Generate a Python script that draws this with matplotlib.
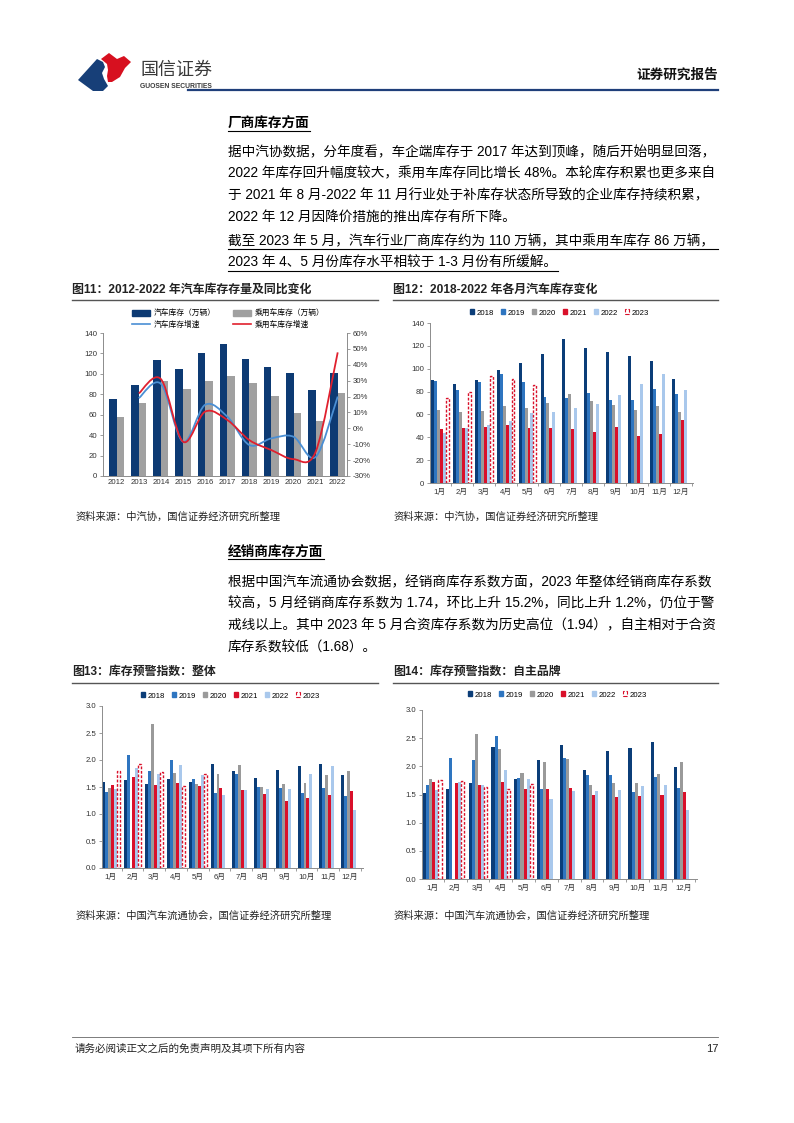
import numpy as np
import matplotlib
matplotlib.use("Agg")
import matplotlib.pyplot as plt
from matplotlib.lines import Line2D
from matplotlib.patches import Patch, Polygon, PathPatch
from matplotlib.path import Path
from matplotlib.ticker import FuncFormatter, FixedLocator

plt.rcParams['font.family'] = ['Liberation Sans', 'Noto Sans CJK SC', 'DejaVu Sans']
plt.rcParams['axes.unicode_minus'] = False

# ---------------- data ----------------
years11 = ['2012', '2013', '2014', '2015', '2016', '2017', '2018', '2019', '2020', '2021', '2022']
auto_stock = [75, 89, 114, 105, 120, 129, 115, 107, 101, 84, 101]
pc_stock = [58, 71, 93, 85, 93, 98, 91, 78, 62, 54, 81]
auto_growth = [np.nan, 0.19, 0.28, -0.084, 0.148, 0.074, -0.105, -0.063, -0.053, -0.18, 0.20]
pc_growth = [np.nan, 0.22, 0.31, -0.084, 0.105, 0.053, -0.074, -0.137, -0.194, -0.148, 0.478]

months = ['1月', '2月', '3月', '4月', '5月', '6月', '7月', '8月', '9月', '10月', '11月', '12月']
series_years = ['2018', '2019', '2020', '2021', '2022', '2023']

m12_2018 = [90, 87, 90, 99, 105, 113, 126, 118, 115, 111, 107, 91]
m12_2019 = [89, 81, 88, 95, 88, 75, 74, 79, 73, 73, 82, 78]
m12_2020 = [64, 62, 63, 67, 66, 70, 78, 72, 68, 64, 67, 62]
m12_2021 = [47, 48, 49, 51, 48, 48, 47, 45, 49, 41, 43, 55]
m12_2022 = [44, 48, 51, 54, 61, 62, 66, 69, 77, 87, 95, 81]
m12_2023 = [74, 80, 94, 91, 86]

nan = np.nan
w13_2018 = [1.59, 1.63, 1.55, 1.65, 1.59, 1.93, 1.79, 1.66, 1.82, 1.88, 1.92, 1.73]
w13_2019 = [1.40, 2.09, 1.80, 2.00, 1.64, 1.38, 1.75, 1.50, 1.49, 1.39, 1.49, 1.34]
w13_2020 = [1.49, nan, 2.67, 1.76, 1.55, 1.74, 1.90, 1.50, 1.55, 1.57, 1.72, 1.79]
w13_2021 = [1.53, 1.68, 1.54, 1.57, 1.51, 1.48, 1.45, 1.37, 1.24, 1.29, 1.35, 1.43]
w13_2022 = [1.46, 1.85, 1.74, 1.90, 1.72, 1.36, 1.45, 1.46, 1.47, 1.75, 1.88, 1.07]
w13_2023 = [1.80, 1.93, 1.78, 1.52, 1.75]

w14_2018 = [1.52, 1.59, 1.70, 2.35, 1.77, 2.11, 2.38, 1.93, 2.27, 2.32, 2.44, 1.98]
w14_2019 = [1.66, 2.15, 2.11, 2.54, 1.80, 1.59, 2.15, 1.84, 1.84, 1.55, 1.81, 1.61]
w14_2020 = [1.77, nan, 2.58, 2.31, 1.89, 2.07, 2.13, 1.67, 1.70, 1.70, 1.86, 2.08]
w14_2021 = [1.72, 1.70, 1.66, 1.73, 1.59, 1.59, 1.61, 1.50, 1.45, 1.47, 1.49, 1.54]
w14_2022 = [1.58, 1.73, 1.66, 1.94, 1.78, 1.42, 1.56, 1.57, 1.58, 1.65, 1.67, 1.22]
w14_2023 = [1.75, 1.74, 1.63, 1.60, 1.68]

# ---------------- style ----------------
W, H = 794, 1123
C18, C19, C20, C21, C22 = '#0b3d78', '#2e75c0', '#9a9a9a', '#d9102a', '#a9c8ec'
AXC = '#8c8c8c'
TXT = '#222222'
TICK_FS = 5.6

fig = plt.figure(figsize=(W / 100, H / 100), dpi=100)


def px_axes(x0, y0, x1, y1):
    return fig.add_axes([x0 / W, 1 - y1 / H, (x1 - x0) / W, (y1 - y0) / H])


def ftext(x, y, s, **kw):
    kw.setdefault('va', 'center')
    kw.setdefault('color', TXT)
    return fig.text(x / W, 1 - y / H, s, **kw)


def hline(x0, x1, y, color='#000000', lw=0.8):
    fig.add_artist(Line2D([x0 / W, x1 / W], [1 - y / H, 1 - y / H],
                          transform=fig.transFigure, color=color, lw=lw))


def fpoly(pts, color):
    verts = [(x / W, 1 - y / H) for x, y in pts]
    fig.add_artist(Polygon(verts, closed=True, transform=fig.transFigure, facecolor=color, edgecolor='none'))


def style_axis(ax, right=False):
    for s in ['top', 'right']:
        ax.spines[s].set_visible(False)
    for s in ['left', 'bottom']:
        ax.spines[s].set_color(AXC)
        ax.spines[s].set_linewidth(0.7)
    ax.tick_params(axis='both', labelsize=TICK_FS, colors=AXC, labelcolor='#333333',
                   length=2, width=0.6, pad=2)


# ---------------- header ----------------
fpoly([(78, 80), (97, 59), (103, 62), (105, 67), (102, 73), (104, 79), (108, 86), (103, 91), (93, 91)],
      '#173f78')
fpoly([(101, 59), (109, 53), (117, 59), (124, 56), (131, 62), (125, 68), (120, 77), (112, 82),
       (108, 82), (107, 76), (108, 70), (107, 64)], '#d7101f')
ftext(140, 70, '国信证券', fontsize=13, color='#3a3a3a', ha='left')
ftext(140, 87, 'GUOSEN SECURITIES', fontsize=4.9, color='#3a3a3a', ha='left', fontweight='bold')
ftext(718, 75, '证券研究报告', fontsize=9.8, fontweight='bold', ha='right', color='#111111')
hline(188, 718, 90, color='#1f3f7a', lw=1.6)

# ---------------- body text ----------------
BODY_FS = 9.8
ftext(228, 124, '厂商库存方面', fontsize=BODY_FS, fontweight='bold', ha='left', color='#000000')
hline(228, 310, 131, lw=0.8)
para1 = ['据中汽协数据，分年度看，车企端库存于 2017 年达到顶峰，随后开始明显回落，',
         '2022 年库存回升幅度较大，乘用车库存同比增长 48%。本轮库存积累也更多来自',
         '于 2021 年 8 月-2022 年 11 月行业处于补库存状态所导致的企业库存持续积累，',
         '2022 年 12 月因降价措施的推出库存有所下降。']
for i, line in enumerate(para1):
    ftext(228, 152 + i * 21.7, line, fontsize=BODY_FS, ha='left', color='#000000')
para2 = ['截至 2023 年 5 月，汽车行业厂商库存约为 110 万辆，其中乘用车库存 86 万辆，',
         '2023 年 4、5 月份库存水平相较于 1-3 月份有所缓解。']
for i, line in enumerate(para2):
    ftext(228, 241 + i * 21.7, line, fontsize=BODY_FS, ha='left', color='#000000')
hline(228, 718, 249, lw=0.8)
hline(228, 558, 270.5, lw=0.8)

ftext(228, 552, '经销商库存方面', fontsize=BODY_FS, fontweight='bold', ha='left', color='#000000')
hline(228, 324, 559, lw=0.8)
para3 = ['根据中国汽车流通协会数据，经销商库存系数方面，2023 年整体经销商库存系数',
         '较高，5 月经销商库存系数为 1.74，环比上升 15.2%，同比上升 1.2%，仍位于警',
         '戒线以上。其中 2023 年 5 月合资库存系数为历史高位（1.94），自主相对于合资',
         '库存系数较低（1.68）。']
for i, line in enumerate(para3):
    ftext(228, 582 + i * 21.7, line, fontsize=BODY_FS, ha='left', color='#000000')

# ---------------- chart titles / sources ----------------
TITLE_FS = 8.6
SRC_FS = 7.4
ftext(72, 290, '图11：2012-2022 年汽车库存存量及同比变化', fontsize=TITLE_FS, fontweight='bold', ha='left')
hline(72, 378, 300, color='#555555', lw=1.0)
ftext(393, 290, '图12：2018-2022 年各月汽车库存变化', fontsize=TITLE_FS, fontweight='bold', ha='left')
hline(393, 718, 300, color='#555555', lw=1.0)
ftext(75, 517, '资料来源：中汽协，国信证券经济研究所整理', fontsize=SRC_FS, ha='left')
ftext(393, 517, '资料来源：中汽协，国信证券经济研究所整理', fontsize=SRC_FS, ha='left')

ftext(72, 672, '图13：库存预警指数：整体', fontsize=TITLE_FS, fontweight='bold', ha='left')
hline(72, 378, 683, color='#555555', lw=1.0)
ftext(393, 672, '图14：库存预警指数：自主品牌', fontsize=TITLE_FS, fontweight='bold', ha='left')
hline(393, 718, 683, color='#555555', lw=1.0)
ftext(75, 916, '资料来源：中国汽车流通协会，国信证券经济研究所整理', fontsize=SRC_FS, ha='left')
ftext(393, 916, '资料来源：中国汽车流通协会，国信证券经济研究所整理', fontsize=SRC_FS, ha='left')

# ---------------- footer ----------------
hline(72, 718, 1037, color='#666666', lw=0.6)
ftext(75, 1049, '请务必阅读正文之后的免责声明及其项下所有内容', fontsize=7.6, ha='left', style='italic',
      color='#222222')
ftext(718, 1049, '17', fontsize=8, ha='right', color='#222222')


# ---------------- chart 11 ----------------
def smooth_path(xs, ys):
    pts = [(x, y) for x, y in zip(xs, ys) if not np.isnan(y)]
    verts = [pts[0]]
    codes = [Path.MOVETO]
    n = len(pts)
    for i in range(n - 1):
        p0 = pts[i - 1] if i > 0 else pts[i]
        p1 = pts[i]
        p2 = pts[i + 1]
        p3 = pts[i + 2] if i + 2 < n else pts[i + 1]
        c1 = (p1[0] + (p2[0] - p0[0]) / 6, p1[1] + (p2[1] - p0[1]) / 6)
        c2 = (p2[0] - (p3[0] - p1[0]) / 6, p2[1] - (p3[1] - p1[1]) / 6)
        verts += [c1, c2, p2]
        codes += [Path.CURVE4] * 3
    return Path(verts, codes)


ax = px_axes(103, 333, 347, 476)
x11 = np.arange(len(years11))
bw = 0.34
ax.bar(x11 - bw / 2, auto_stock, bw, color='#0d3a73')
ax.bar(x11 + bw / 2, pc_stock, bw, color='#a0a0a0')
ax.set_xlim(-0.62, 10.42)
ax.set_ylim(0, 140)
ax.set_yticks(np.arange(0, 141, 20))
ax.set_xticks(x11)
ax.set_xticklabels(years11)
style_axis(ax)
ax.tick_params(axis='x', length=0)
ax2 = ax.twinx()
ax2.set_ylim(-0.30, 0.60)
ax2.set_yticks(np.arange(-0.3, 0.61, 0.1))
ax2.yaxis.set_major_formatter(FuncFormatter(lambda v, p: f'{round(v * 100):d}%'))
for s in ['top', 'left', 'bottom']:
    ax2.spines[s].set_visible(False)
ax2.spines['right'].set_color(AXC)
ax2.spines['right'].set_linewidth(0.7)
ax2.tick_params(axis='y', labelsize=TICK_FS, colors=AXC, labelcolor='#333333', length=2, width=0.6, pad=2)
ax2.add_patch(PathPatch(smooth_path(x11, auto_growth), facecolor='none', edgecolor='#4a8fd4', lw=1.3))
ax2.add_patch(PathPatch(smooth_path(x11, pc_growth), facecolor='none', edgecolor='#e0202e', lw=1.3))
handles = [Patch(color='#0d3a73'), Line2D([], [], color='#4a8fd4', lw=1.2),
           Patch(color='#a0a0a0'), Line2D([], [], color='#e0202e', lw=1.2)]
labels = ['汽车库存（万辆）', '汽车库存增速', '乘用车库存（万辆）', '乘用车库存增速']
fig.legend(handles, labels, ncol=2, loc='center', bbox_to_anchor=(228 / W, 1 - 319.5 / H),
           fontsize=5.6, frameon=False, handlelength=2.4, handleheight=0.8, columnspacing=2.2,
           handletextpad=0.4, labelspacing=0.35)


# ---------------- monthly bar charts ----------------
def monthly_chart(box, data, ylim, yticks, yfmt, xlim, legend_y):
    axm = px_axes(*box)
    xm = np.arange(len(months))
    bw = 0.135
    colors = [C18, C19, C20, C21, C22]
    for k, (vals, col) in enumerate(zip(data[:5], colors)):
        v = np.array(vals, dtype=float)
        ok = ~np.isnan(v)
        axm.bar(xm[ok] + (k - 2.5) * bw, v[ok], bw, color=col, linewidth=0)
    v23 = np.array(data[5], dtype=float)
    axm.bar(xm[:len(v23)] + 2.5 * bw, v23, bw, facecolor='white', edgecolor=C21,
            linewidth=1.0, linestyle=(0, (2.0, 1.2)))
    axm.set_xlim(*xlim)
    axm.set_ylim(*ylim)
    axm.set_yticks(yticks)
    axm.yaxis.set_major_formatter(FuncFormatter(yfmt))
    axm.set_xticks(xm)
    axm.set_xticklabels(months)
    axm.xaxis.set_minor_locator(FixedLocator(np.arange(-0.5, 12, 1.0)))
    style_axis(axm)
    axm.tick_params(axis='x', which='major', length=0, pad=4)
    axm.tick_params(axis='x', which='minor', length=2, width=0.6, colors=AXC)
    hs = [Patch(color=c) for c in colors] + [Patch(facecolor='white', edgecolor=C21, linestyle='--', lw=0.8)]
    x_c = (box[0] + box[2]) / 2 - 2
    fig.legend(hs, series_years, ncol=6, loc='center', bbox_to_anchor=(x_c / W, 1 - legend_y / H),
               fontsize=5.6, frameon=False, handlelength=0.55, handleheight=0.55, columnspacing=0.9,
               handletextpad=0.3)
    return axm


monthly_chart((430, 323, 693, 483),
              [m12_2018, m12_2019, m12_2020, m12_2021, m12_2022, m12_2023],
              (0, 140), np.arange(0, 141, 20), lambda v, p: f'{v:.0f}', (-0.45, 11.55), 313)

monthly_chart((102, 706, 363, 868),
              [w13_2018, w13_2019, w13_2020, w13_2021, w13_2022, w13_2023],
              (0, 3.0), np.arange(0, 3.01, 0.5), lambda v, p: f'{v:.1f}', (-0.4, 11.6), 696)

monthly_chart((422, 710, 697, 879),
              [w14_2018, w14_2019, w14_2020, w14_2021, w14_2022, w14_2023],
              (0, 3.0), np.arange(0, 3.01, 0.5), lambda v, p: f'{v:.1f}', (-0.45, 11.6), 695)

fig.savefig('out.png', dpi=100)
